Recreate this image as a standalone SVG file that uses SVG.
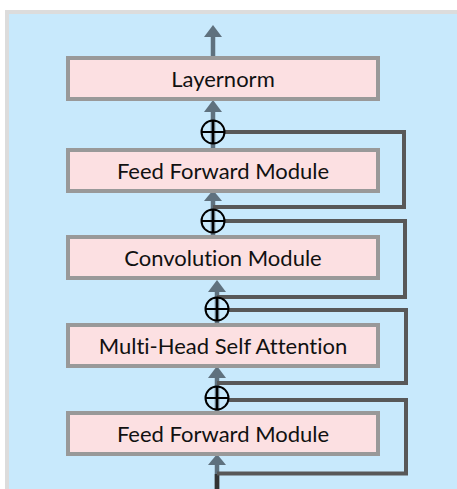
<svg xmlns="http://www.w3.org/2000/svg" width="457" height="489" viewBox="0 0 457 489">
<defs>
<style>
.box{fill:#fce0e2;stroke:#999999;stroke-width:4}
.lbl{font-family:Lato,"Open Sans",sans-serif;font-size:22px;fill:#111;text-anchor:middle;font-variant-ligatures:none}
.flow{stroke:#5f717e;stroke-width:4.5;fill:none}
.head{fill:#5f717e}
.loop{stroke:#585858;stroke-width:4;fill:none}
.sum{fill:none;stroke:#000;stroke-width:2}
</style>
</defs>
<rect x="0" y="0" width="457" height="489" fill="#ffffff"/>
<rect x="5" y="10" width="452" height="479" fill="#dcdcdc"/>
<rect x="9" y="14" width="448" height="475" fill="#c8e9fc"/>

<g id="connectors">
  <line class="flow" x1="213" y1="58" x2="213" y2="35"/>
  <polygon class="head" points="204,37 222,37 213,25"/>
  <line class="flow" x1="213" y1="150" x2="213" y2="110"/>
  <polygon class="head" points="204,112 222,112 213,100"/>
  <line class="flow" x1="213" y1="237" x2="213" y2="200"/>
  <polygon class="head" points="204,201 222,201 213,190"/>
  <line class="flow" x1="217" y1="325" x2="217" y2="290"/>
  <polygon class="head" points="208,292 226,292 217,280"/>
  <line class="flow" x1="217" y1="413" x2="217" y2="376"/>
  <polygon class="head" points="208,378 226,378 217,366"/>
  <line class="flow" x1="217" y1="489" x2="217" y2="463"/>
  <polygon class="head" points="208,465 226,465 217,454"/>
  <line x1="217" y1="474" x2="217" y2="489" stroke="#333" stroke-width="4.5"/>
  <polyline class="loop" points="224,132 404,132 404,207 213,207"/>
  <polyline class="loop" points="224,221 405,221 405,297 217,297"/>
  <polyline class="loop" points="228,310 406,310 406,383 217,383"/>
  <polyline class="loop" points="228,400 406,400 406,473.5 217,473.5"/>
</g>

<g id="sum1"><circle class="sum" cx="213" cy="132" r="11.5"/><path class="sum" d="M201.5 132H224.5M213 120.5V143.5"/></g>
<g id="sum2"><circle class="sum" cx="213" cy="221" r="11.5"/><path class="sum" d="M201.5 221H224.5M213 209.5V232.5"/></g>
<g id="sum3"><circle class="sum" cx="217" cy="309" r="11.5"/><path class="sum" d="M205.5 309H228.5M217 297.5V320.5"/></g>
<g id="sum4"><circle class="sum" cx="217" cy="398" r="11.5"/><path class="sum" d="M205.5 398H228.5M217 386.5V409.5"/></g>

<g id="layernorm"><rect class="box" x="68" y="58" width="310" height="41"/><text class="lbl" x="223" y="87">Layernorm</text></g>
<g id="ffn-top"><rect class="box" x="68" y="150" width="310" height="41"/><text class="lbl" x="223" y="178.5">Feed Forward Module</text></g>
<g id="conv"><rect class="box" x="68" y="237" width="310" height="41"/><text class="lbl" x="223" y="266">Convolution Module</text></g>
<g id="mhsa"><rect class="box" x="68" y="325" width="310" height="41"/><text class="lbl" x="223" y="353.5">Multi-Head Self Attention</text></g>
<g id="ffn-bottom"><rect class="box" x="68" y="413" width="310" height="41"/><text class="lbl" x="223" y="441.5">Feed Forward Module</text></g>
</svg>
